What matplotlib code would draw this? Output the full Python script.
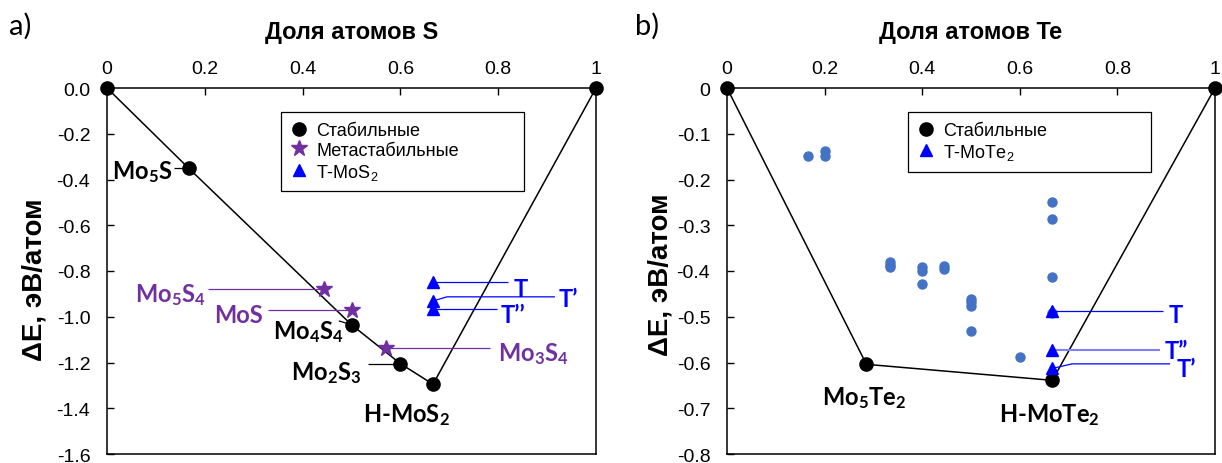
import matplotlib
matplotlib.use('Agg')
import matplotlib.pyplot as plt

plt.rcParams['font.family'] = ['Liberation Sans', 'DejaVu Sans']
plt.rcParams['mathtext.default'] = 'regular'

# ---------------- data: panel a (Mo-S) ----------------
a_stable_x = [0.0, 0.1667, 0.5, 0.6, 0.6667, 1.0]
a_stable_y = [0.0, -0.350, -1.035, -1.205, -1.295, 0.0]
a_stable_names = ['', 'Mo$_5$S', 'Mo$_4$S$_4$', 'Mo$_2$S$_3$', 'H-MoS$_2$', '']
a_meta_x = [0.4444, 0.5, 0.5714]
a_meta_y = [-0.877, -0.972, -1.135]
a_meta_names = ['Mo$_5$S$_4$', 'MoS', 'Mo$_3$S$_4$']
a_t_x = [0.6667, 0.6667, 0.6667]
a_t_y = [-0.848, -0.931, -0.966]
a_t_names = ['T', 'T’', 'T’’']
a_xticks = [0, 0.2, 0.4, 0.6, 0.8, 1]
a_xticklabels = ['0', '0.2', '0.4', '0.6', '0.8', '1']
a_yticks = [0.0, -0.2, -0.4, -0.6, -0.8, -1.0, -1.2, -1.4, -1.6]
a_yticklabels = ['0.0', '-0.2', '-0.4', '-0.6', '-0.8', '-1.0', '-1.2', '-1.4', '-1.6']

# ---------------- data: panel b (Mo-Te) ----------------
b_stable_x = [0.0, 0.2857, 0.6667, 1.0]
b_stable_y = [0.0, -0.604, -0.639, 0.0]
b_stable_names = ['', 'Mo$_5$Te$_2$', 'H-MoTe$_2$', '']
b_t_x = [0.6667, 0.6667, 0.6667]
b_t_y = [-0.488, -0.572, -0.613]
b_t_names = ['T', 'T”', 'T’']
b_other_x = [0.167, 0.2, 0.2, 0.333, 0.333, 0.333, 0.4, 0.4, 0.4, 0.444, 0.444,
             0.5, 0.5, 0.5, 0.5, 0.6, 0.667, 0.667, 0.667, 0.667]
b_other_y = [-0.148, -0.137, -0.148, -0.381, -0.386, -0.392, -0.392, -0.401, -0.428,
             -0.390, -0.396, -0.461, -0.468, -0.476, -0.531, -0.588, -0.249, -0.286,
             -0.413, -0.492]
b_xticks = [0, 0.2, 0.4, 0.6, 0.8, 1]
b_xticklabels = ['0', '0.2', '0.4', '0.6', '0.8', '1']
b_yticks = [0.0, -0.1, -0.2, -0.3, -0.4, -0.5, -0.6, -0.7, -0.8]
b_yticklabels = ['0', '-0.1', '-0.2', '-0.3', '-0.4', '-0.5', '-0.6', '-0.7', '-0.8']

# ---------------- styles ----------------
BLACK = '#000000'
PURPLE = '#7030A0'
BLUE = '#0000FF'
LIGHTBLUE = '#4472C4'
LABEL_FONT = ['Lato', 'DejaVu Sans']
LABEL_SIZE = 17

fig = plt.figure(figsize=(12.22, 4.64), dpi=100)
W, H = 1222, 464


def axes_px(l, r, t, b):
    return fig.add_axes([l / W, 1 - b / H, (r - l) / W, (b - t) / H])


axA = axes_px(107, 596, 89, 455)
axB = axes_px(727, 1215, 89, 455)


def style_axes(ax, xticks, xtl, yticks, ytl, ylim):
    ax.set_xlim(0, 1)
    ax.set_ylim(*ylim)
    ax.xaxis.tick_top()
    ax.set_xticks(xticks)
    ax.set_xticklabels(xtl)
    ax.set_yticks(yticks)
    ax.set_yticklabels(ytl)
    ax.tick_params(axis='x', direction='in', length=5, width=1, labelsize=14, pad=8)
    ax.tick_params(axis='y', direction='in', length=5, width=1, labelsize=14, pad=12)
    for s in ax.spines.values():
        s.set_linewidth(1.1)
        s.set_color('black')


def leader(ax, pts, color, lw=0.9):
    xs = [p[0] for p in pts]
    ys = [p[1] for p in pts]
    ax.plot(xs, ys, color=color, lw=lw, zorder=3, solid_capstyle='butt')


def label(ax, text, x, y, ha, color):
    ax.text(x, y, text, ha=ha, va='center', color=color, fontsize=LABEL_SIZE,
            fontweight='bold', family=LABEL_FONT, zorder=6)


# ================= panel a =================
style_axes(axA, a_xticks, a_xticklabels, a_yticks, a_yticklabels, (-1.6, 0.0))
axA.plot(a_stable_x, a_stable_y, color='black', lw=1.1, zorder=2)
axA.plot(a_stable_x, a_stable_y, 'o', ms=9.5, color=BLACK, clip_on=False, zorder=5,
         label='Стабильные')
axA.plot(a_meta_x, a_meta_y, '*', ms=12, color=PURPLE, clip_on=False, zorder=5,
         label='Метастабильные')
axA.plot(a_t_x, a_t_y, '^', ms=9, color=BLUE, clip_on=False, zorder=5,
         label='T-MoS$_2$')

# stable labels
px, py = a_stable_x[1], a_stable_y[1]
leader(axA, [(0.137, py), (px, py)], BLACK)
label(axA, a_stable_names[1], 0.133, -0.362, 'right', BLACK)
px, py = a_stable_x[2], a_stable_y[2]
leader(axA, [(0.474, -1.018), (px, py)], BLACK)
label(axA, a_stable_names[2], 0.485, -1.064, 'right', BLACK)
px, py = a_stable_x[3], a_stable_y[3]
leader(axA, [(0.534, py), (px, py)], BLACK)
label(axA, a_stable_names[3], 0.521, -1.240, 'right', BLACK)
label(axA, a_stable_names[4], 0.613, -1.425, 'center', BLACK)

# metastable labels
px, py = a_meta_x[0], a_meta_y[0]
leader(axA, [(0.207, py), (px, py)], PURPLE)
label(axA, a_meta_names[0], 0.2025, -0.900, 'right', PURPLE)
px, py = a_meta_x[1], a_meta_y[1]
leader(axA, [(0.329, py), (px, py)], PURPLE)
label(axA, a_meta_names[1], 0.318, -0.992, 'right', PURPLE)
px, py = a_meta_x[2], a_meta_y[2]
leader(axA, [(px, py), (0.783, py)], PURPLE)
label(axA, a_meta_names[2], 0.800, -1.157, 'left', PURPLE)

# T labels
px, py = a_t_x[0], a_t_y[0]
leader(axA, [(px, py), (0.820, py)], BLUE)
label(axA, a_t_names[0], 0.832, -0.876, 'left', BLUE)
px, py = a_t_x[1], a_t_y[1]
leader(axA, [(px, py), (0.695, -0.913), (0.916, -0.913)], BLUE)
label(axA, a_t_names[1], 0.924, -0.920, 'left', BLUE)
px, py = a_t_x[2], a_t_y[2]
leader(axA, [(px, py), (0.798, py)], BLUE)
label(axA, a_t_names[2], 0.804, -0.990, 'left', BLUE)

legA = axA.legend(loc='upper left', bbox_to_anchor=(0.356, 0.0, 0.497, 0.934),
                  mode='expand', borderaxespad=0, fontsize=13, frameon=True,
                  fancybox=False, framealpha=1, edgecolor='black',
                  handlelength=0.9, handletextpad=0.5, borderpad=0.55,
                  labelspacing=0.15, numpoints=1)
legA.get_frame().set_linewidth(0.9)

# ================= panel b =================
style_axes(axB, b_xticks, b_xticklabels, b_yticks, b_yticklabels, (-0.8, 0.0))
axB.plot(b_stable_x, b_stable_y, color='black', lw=1.1, zorder=2)
axB.plot(b_other_x, b_other_y, 'o', ms=6.5, color=LIGHTBLUE, zorder=3)
axB.plot(b_stable_x, b_stable_y, 'o', ms=9.5, color=BLACK, clip_on=False, zorder=5,
         label='Стабильные')
axB.plot(b_t_x, b_t_y, '^', ms=9, color=BLUE, clip_on=False, zorder=5,
         label='T-MoTe$_2$')

label(axB, b_stable_names[1], 0.281, -0.675, 'center', BLACK)
label(axB, b_stable_names[2], 0.660, -0.713, 'center', BLACK)

px, py = b_t_x[0], b_t_y[0]
leader(axB, [(px, py), (0.893, py)], BLUE)
label(axB, b_t_names[0], 0.904, -0.495, 'left', BLUE)
px, py = b_t_x[1], b_t_y[1]
leader(axB, [(px, py), (0.887, py)], '#8080FF', lw=1.5)
label(axB, b_t_names[1], 0.897, -0.574, 'left', BLUE)
px, py = b_t_x[2], b_t_y[2]
leader(axB, [(px, py), (0.707, -0.603), (0.908, -0.603)], BLUE)
label(axB, b_t_names[2], 0.921, -0.614, 'left', BLUE)

legB = axB.legend(loc='upper left', bbox_to_anchor=(0.371, 0.0, 0.498, 0.934),
                  mode='expand', borderaxespad=0, fontsize=13, frameon=True,
                  fancybox=False, framealpha=1, edgecolor='black',
                  handlelength=0.9, handletextpad=0.5, borderpad=0.55,
                  labelspacing=0.15, numpoints=1)
legB.get_frame().set_linewidth(0.9)

# ================= titles / axis labels =================
fig.text(351.5 / W, 1 - 32 / H, 'Доля атомов S', ha='center', va='center',
         fontsize=17, fontweight='bold')
fig.text(971 / W, 1 - 32 / H, 'Доля атомов Te', ha='center', va='center',
         fontsize=17, fontweight='bold')
fig.text(35 / W, 1 - 280 / H, 'ΔE, эВ/атом', ha='center', va='center',
         rotation=90, fontsize=20, fontweight='bold')
fig.text(660 / W, 1 - 275 / H, 'ΔE, эВ/атом', ha='center', va='center',
         rotation=90, fontsize=20, fontweight='bold')
fig.text(20 / W, 1 - 26 / H, 'a)', ha='center', va='center', fontsize=21,
         family=['Lato', 'DejaVu Sans'])
fig.text(647 / W, 1 - 26 / H, 'b)', ha='center', va='center', fontsize=21,
         family=['Lato', 'DejaVu Sans'])

fig.savefig('out.png', dpi=100)
